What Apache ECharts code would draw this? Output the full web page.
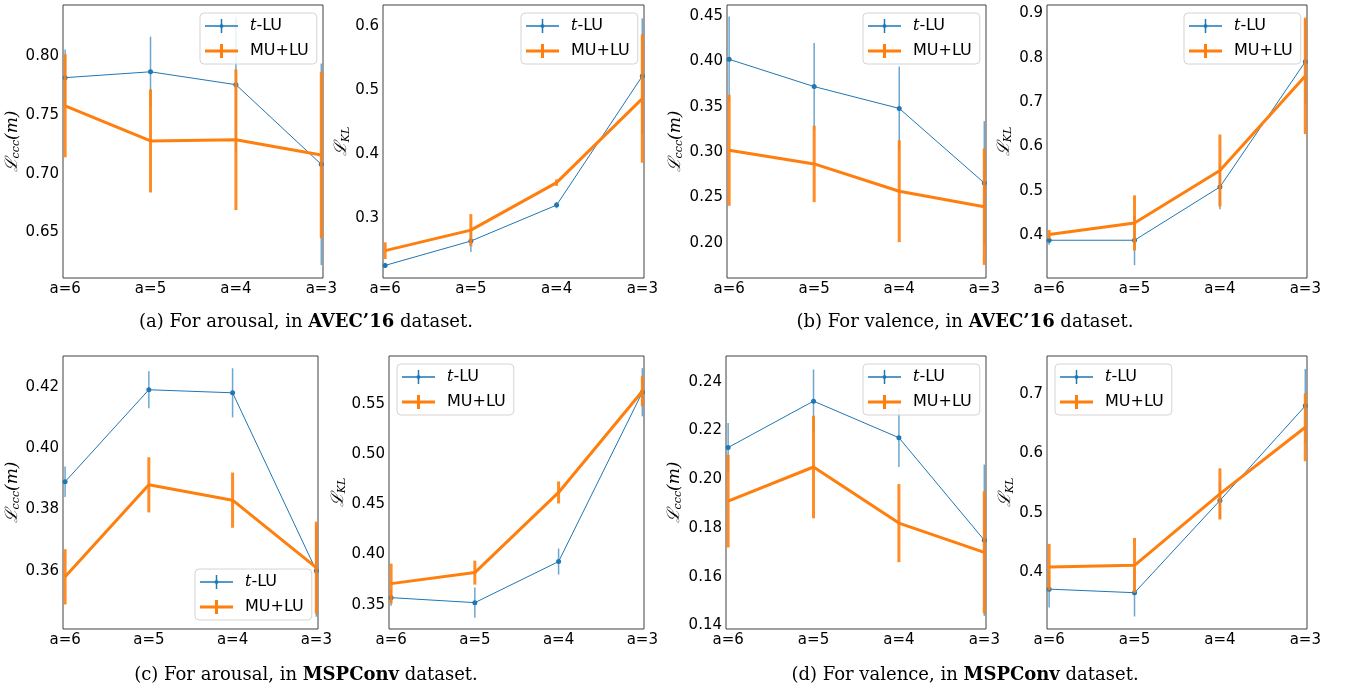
<!DOCTYPE html>
<html>
<head>
<meta charset="utf-8">
<script src="https://cdn.jsdelivr.net/npm/echarts@6/dist/echarts.min.js"></script>
<style>html,body{margin:0;padding:0;background:#fff;}#c{width:1346px;height:693px;}</style>
</head>
<body>
<div id="c"></div>
<script>
// ---------------- DATA ----------------
const categories = ['a=6', 'a=5', 'a=4', 'a=3'];
const seriesNames = ['t-LU', 'MU+LU'];

// (a) arousal, AVEC'16 — L_ccc
const aTluMean = [0.782, 0.787, 0.776, 0.708];
const aTluErr  = [0.024, 0.030, 0.058, 0.086];
const aMuMean  = [0.758, 0.728, 0.729, 0.716];
const aMuErr   = [0.044, 0.044, 0.060, 0.071];
const aTicks   = [0.65, 0.70, 0.75, 0.80];
// (a) arousal, AVEC'16 — L_KL
const bTluMean = [0.227, 0.265, 0.321, 0.522];
const bTluErr  = [0.004, 0.017, 0.005, 0.090];
const bMuMean  = [0.250, 0.282, 0.356, 0.487];
const bMuErr   = [0.013, 0.025, 0.005, 0.100];
const bTicks   = [0.3, 0.4, 0.5, 0.6];
// (b) valence, AVEC'16 — L_ccc
const cTluMean = [0.402, 0.372, 0.348, 0.266];
const cTluErr  = [0.047, 0.048, 0.046, 0.068];
const cMuMean  = [0.302, 0.287, 0.257, 0.240];
const cMuErr   = [0.061, 0.042, 0.056, 0.064];
const cTicks   = [0.20, 0.25, 0.30, 0.35, 0.40, 0.45];
// (b) valence, AVEC'16 — L_KL
const dTluMean = [0.389, 0.389, 0.509, 0.791];
const dTluErr  = [0.010, 0.056, 0.050, 0.095];
const dMuMean  = [0.402, 0.428, 0.546, 0.759];
const dMuErr   = [0.010, 0.062, 0.081, 0.131];
const dTicks   = [0.4, 0.5, 0.6, 0.7, 0.8, 0.9];
// (c) arousal, MSPConv — L_ccc
const eTluMean = [0.389, 0.419, 0.418, 0.360];
const eTluErr  = [0.005, 0.006, 0.008, 0.015];
const eMuMean  = [0.358, 0.388, 0.383, 0.361];
const eMuErr   = [0.009, 0.009, 0.009, 0.015];
const eTicks   = [0.36, 0.38, 0.40, 0.42];
// (c) arousal, MSPConv — L_KL
const fTluMean = [0.357, 0.352, 0.393, 0.562];
const fTluErr  = [0.008, 0.015, 0.013, 0.024];
const fMuMean  = [0.371, 0.382, 0.462, 0.563];
const fMuErr   = [0.020, 0.012, 0.011, 0.015];
const fTicks   = [0.35, 0.40, 0.45, 0.50, 0.55];
// (d) valence, MSPConv — L_ccc
const gTluMean = [0.213, 0.232, 0.217, 0.175];
const gTluErr  = [0.010, 0.013, 0.012, 0.031];
const gMuMean  = [0.191, 0.205, 0.182, 0.170];
const gMuErr   = [0.019, 0.021, 0.016, 0.025];
const gTicks   = [0.14, 0.16, 0.18, 0.20, 0.22, 0.24];
// (d) valence, MSPConv — L_KL
const hTluMean = [0.372, 0.366, 0.521, 0.680];
const hTluErr  = [0.031, 0.040, 0.030, 0.062];
const hMuMean  = [0.409, 0.412, 0.532, 0.644];
const hMuErr   = [0.039, 0.046, 0.043, 0.057];
const hTicks   = [0.4, 0.5, 0.6, 0.7];

const captions = [
  ['(a) For arousal, in ', 'AVEC’16', ' dataset.'],
  ['(b) For valence, in ', 'AVEC’16', ' dataset.'],
  ['(c) For arousal, in ', 'MSPConv', ' dataset.'],
  ['(d) For valence, in ', 'MSPConv', ' dataset.']
];

// ---------------- LAYOUT ----------------
const panels = [
  {tm: aTluMean, te: aTluErr, mm: aMuMean, me: aMuErr, ticks: aTicks, dec: 2, kind: 'ccc',
   grid: [63, 5, 260, 273], y: [0.611, 0.844], gap: 38, leg: [200, 13]},
  {tm: bTluMean, te: bTluErr, mm: bMuMean, me: bMuErr, ticks: bTicks, dec: 1, kind: 'kl',
   grid: [383, 5, 261, 273], y: [0.2074, 0.6328], gap: 30, leg: [521, 13]},
  {tm: cTluMean, te: cTluErr, mm: cMuMean, me: cMuErr, ticks: cTicks, dec: 2, kind: 'ccc',
   grid: [727, 5, 259, 273], y: [0.1616, 0.4617], gap: 42, leg: [863, 13]},
  {tm: dTluMean, te: dTluErr, mm: dMuMean, me: dMuErr, ticks: dTicks, dec: 1, kind: 'kl',
   grid: [1047, 5, 260, 273], y: [0.304, 0.9187], gap: 33, leg: [1184, 13]},
  {tm: eTluMean, te: eTluErr, mm: eMuMean, me: eMuErr, ticks: eTicks, dec: 2, kind: 'ccc',
   grid: [63, 356, 255, 273], y: [0.341, 0.430], gap: 38, leg: [195, 569]},
  {tm: fTluMean, te: fTluErr, mm: fMuMean, me: fMuErr, ticks: fTicks, dec: 2, kind: 'kl',
   grid: [389, 356, 255, 273], y: [0.3257, 0.5982], gap: 40, leg: [397, 364]},
  {tm: gTluMean, te: gTluErr, mm: gMuMean, me: gMuErr, ticks: gTicks, dec: 2, kind: 'ccc',
   grid: [726, 356, 260, 273], y: [0.1386, 0.2505], gap: 42, leg: [863, 364]},
  {tm: hTluMean, te: hTluErr, mm: hMuMean, me: hMuErr, ticks: hTicks, dec: 1, kind: 'kl',
   grid: [1047, 356, 260, 273], y: [0.305, 0.7638], gap: 28, leg: [1055, 364]}
];
const captionPos = [[306, 322], [965, 322], [306, 675], [965, 675]];

const BLUE = '#1f77b4', ORANGE = '#ff7f0e';
const FONT = 'DejaVu Sans';
const tIcon = 'path://M0,12.5H66V15.5H0Z M31.5,0H34.5V28H31.5Z M29,14A4,4,0,1,1,37,14A4,4,0,1,1,29,14Z';
const mIcon = 'path://M0,11H66V17H0Z M30,0H36V28H30Z';

const grids = [], xAxes = [], yAxes = [], series = [], legends = [];

function errRender(width, color, opacity) {
  return function (params, api) {
    const x = api.value(0);
    const p1 = api.coord([x, api.value(1)]);
    const p2 = api.coord([x, api.value(2)]);
    return {
      type: 'line',
      shape: {x1: p1[0], y1: p1[1], x2: p2[0], y2: p2[1]},
      style: {stroke: color, lineWidth: width, opacity: opacity}
    };
  };
}

panels.forEach((p, i) => {
  grids.push({left: p.grid[0], top: p.grid[1], width: p.grid[2], height: p.grid[3],
    show: true, borderColor: '#404040', borderWidth: 1, backgroundColor: 'transparent'});
  xAxes.push({type: 'value', gridIndex: i, min: -0.025, max: 3.02,
    axisLine: {show: false}, axisTick: {show: false}, splitLine: {show: false},
    axisLabel: {customValues: [0, 1, 2, 3], formatter: v => categories[Math.round(v)],
      fontSize: 15, fontFamily: FONT, color: '#000', margin: 4, hideOverlap: false}});
  const nameText = p.kind === 'ccc' ? '{L|ℒ}{s|ccc}{L|(}{m|m}{L|)}' : '{L|ℒ}{s|KL}';
  yAxes.push({type: 'value', gridIndex: i, min: p.y[0], max: p.y[1],
    axisLine: {show: false}, axisTick: {show: false}, splitLine: {show: false},
    axisLabel: {customValues: p.ticks, formatter: v => v.toFixed(p.dec),
      fontSize: 15, fontFamily: FONT, color: '#000', margin: 4},
    name: nameText, nameLocation: 'middle', nameRotate: 90, nameGap: p.gap,
    nameTextStyle: {color: '#000', fontSize: 17, fontFamily: 'DejaVu Serif',
      rich: {
        L: {fontSize: 17, fontFamily: 'DejaVu Serif', fontStyle: 'italic', color: '#000', verticalAlign: 'middle'},
        m: {fontSize: 17, fontFamily: 'DejaVu Serif', fontStyle: 'italic', color: '#000', verticalAlign: 'middle'},
        s: {fontSize: 11, fontFamily: 'DejaVu Serif', fontStyle: 'italic', color: '#000', verticalAlign: 'bottom', padding: [8, 0, 0, 0]}
      }}});
  const tlu = categories.map((c, k) => [k, p.tm[k]]);
  const mu = categories.map((c, k) => [k, p.mm[k]]);
  const tluE = categories.map((c, k) => [k, p.tm[k] - p.te[k], p.tm[k] + p.te[k]]);
  const muE = categories.map((c, k) => [k, p.mm[k] - p.me[k], p.mm[k] + p.me[k]]);
  series.push({type: 'custom', name: 'tErr' + i, xAxisIndex: i, yAxisIndex: i, data: tluE,
    encode: {x: 0, y: [1, 2]}, renderItem: errRender(1.5, BLUE, 0.65), silent: true, z: 2});
  series.push({type: 'line', name: 't-LU', xAxisIndex: i, yAxisIndex: i, data: tlu,
    color: BLUE, lineStyle: {width: 1, color: BLUE}, symbol: 'circle', symbolSize: 5,
    itemStyle: {color: BLUE}, animation: false, z: 3});
  series.push({type: 'custom', name: 'mErr' + i, xAxisIndex: i, yAxisIndex: i, data: muE,
    encode: {x: 0, y: [1, 2]}, renderItem: errRender(3, ORANGE, 0.9), silent: true, z: 4});
  series.push({type: 'line', name: 'MU+LU', xAxisIndex: i, yAxisIndex: i, data: mu,
    color: ORANGE, lineStyle: {width: 3, color: ORANGE}, symbol: 'none',
    itemStyle: {color: ORANGE}, animation: false, z: 5});
  legends.push({left: p.leg[0], top: p.leg[1], orient: 'vertical',
    itemWidth: 33, itemHeight: 14, itemGap: 9, padding: [5, 8, 5, 5],
    borderColor: '#d4d4d4', borderWidth: 1, borderRadius: 4,
    backgroundColor: 'rgba(255,255,255,0.85)', selectedMode: false,
    data: [{name: seriesNames[0], icon: tIcon}, {name: seriesNames[1], icon: mIcon}],
    formatter: name => name === 't-LU' ? '{i|t}{n|-LU}' : '{n|' + name + '}',
    textStyle: {fontSize: 16, fontFamily: FONT, color: '#000', padding: [0, 0, 0, 7],
      rich: {i: {fontSize: 16, fontFamily: 'DejaVu Serif', fontStyle: 'italic', color: '#000'},
             n: {fontSize: 16, fontFamily: FONT, color: '#000'}}}});
});

const graphics = captions.map((c, i) => ({
  type: 'text', x: captionPos[i][0], y: captionPos[i][1],
  style: {text: '{r|' + c[0] + '}{b|' + c[1] + '}{r|' + c[2] + '}',
    align: 'center', verticalAlign: 'middle',
    rich: {r: {fontSize: 18, fontFamily: 'DejaVu Serif', fill: '#000'},
           b: {fontSize: 18, fontFamily: 'DejaVu Serif', fontWeight: 'bold', fill: '#000'}}}
}));

const chart = echarts.init(document.getElementById('c'), null, {renderer: 'canvas'});
chart.setOption({
  animation: false,
  backgroundColor: '#fff',
  grid: grids, xAxis: xAxes, yAxis: yAxes, series: series, legend: legends,
  graphic: graphics
});
</script>
</body>
</html>
